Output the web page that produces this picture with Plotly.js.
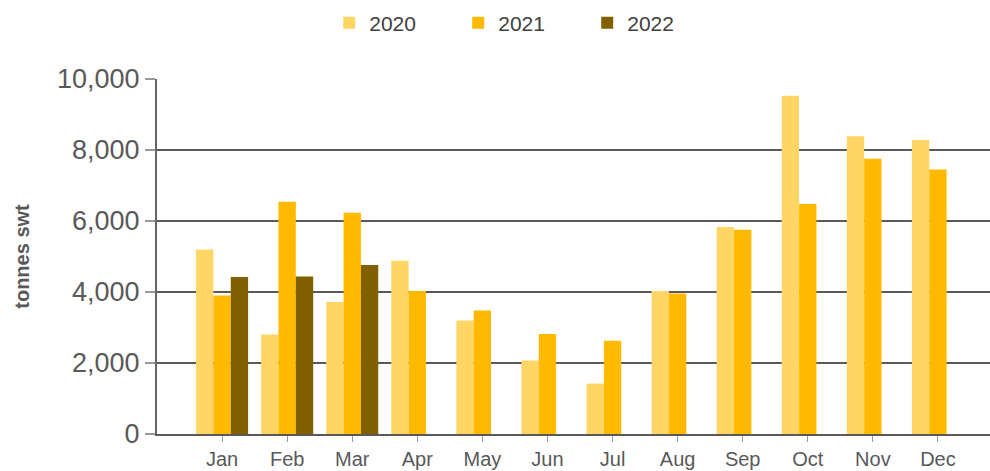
<!DOCTYPE html>
<html>
<head>
<meta charset="utf-8">
<script src="https://cdn.plot.ly/plotly-3.0.1.min.js"></script>
<style>html,body{margin:0;padding:0;background:#fff;}#chart{width:990px;height:471px;}</style>
</head>
<body>
<div id="chart"></div>
<script>
const months = ["Jan","Feb","Mar","Apr","May","Jun","Jul","Aug","Sep","Oct","Nov","Dec"];
const y2020 = [5200, 2800, 3720, 4880, 3200, 2070, 1420, 4030, 5830, 9530, 8390, 8280];
const y2021 = [3900, 6540, 6230, 4030, 3480, 2820, 2630, 3960, 5750, 6480, 7750, 7450];
const months2022 = ["Jan","Feb","Mar"];
const y2022 = [4420, 4440, 4760];
const seriesNames = ["2020","2021","2022"];
const colors = ["#FFD566","#FFBA00","#806000"];
const yTickVals = [0, 2000, 4000, 6000, 8000, 10000];

const font = "Liberation Sans, Arial, sans-serif";
const traces = [
  {type:"bar", name:seriesNames[0], x:months, y:y2020, marker:{color:colors[0]}},
  {type:"bar", name:seriesNames[1], x:months, y:y2021, marker:{color:colors[1]}},
  {type:"bar", name:seriesNames[2], x:months2022, y:y2022, marker:{color:colors[2]}}
];
const layout = {
  width:990, height:471,
  margin:{l:157, r:0, t:79, b:37},
  paper_bgcolor:"#fff", plot_bgcolor:"#fff",
  barmode:"group", bargap:0.2, bargroupgap:0,
  font:{family:font, color:"#595959"},
  showlegend:true,
  legend:{orientation:"h", xref:"container", yref:"container", x:0.528, xanchor:"center", y:1-23/471, yanchor:"middle",
          font:{size:21, color:"#404040"}, entrywidth:84, entrywidthmode:"pixels", traceorder:"normal"},
  xaxis:{type:"category", categoryorder:"array", categoryarray:months, range:[-1, 11.8],
         showline:true, linecolor:"#595959", linewidth:2, ticks:"outside", ticklen:6, tickwidth:1, tickcolor:"#999",
         tickfont:{size:20, color:"#595959"}, showgrid:false, fixedrange:true},
  yaxis:{range:[0,10000], tickvals:yTickVals, tickformat:",d", showline:true, linecolor:"#666", linewidth:2,
         ticks:"outside", ticklen:10, tickwidth:2, tickcolor:"#999", ticklabelstandoff:0,
         gridcolor:"#595959", gridwidth:2, zeroline:false,
         tickfont:{size:27, color:"#595959"},
         title:{text:"<b>tonnes swt</b>", font:{size:20, color:"#595959"}, standoff:22}, fixedrange:true},
  hovermode:false
};
Plotly.newPlot("chart", traces, layout, {displayModeBar:false, staticPlot:true});
</script>
</body>
</html>
